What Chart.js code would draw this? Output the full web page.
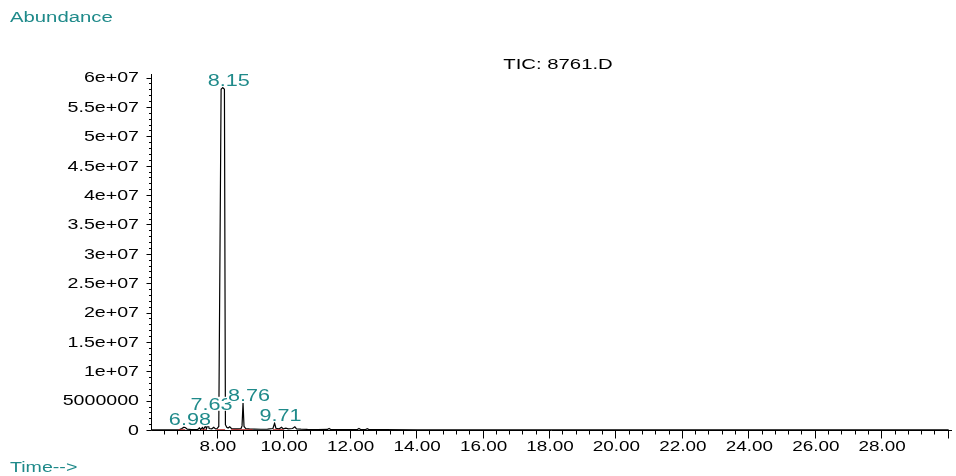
<!DOCTYPE html>
<html>
<head>
<meta charset="utf-8">
<title>TIC: 8761.D</title>
<script src="https://cdn.jsdelivr.net/npm/chart.js@4.4.0/dist/chart.umd.min.js"></script>
<style>
  html, body { margin: 0; padding: 0; background: #fff; }
  canvas { display: block; }
</style>
</head>
<body>
<canvas id="tic" width="956" height="476" style="width:956px;height:476px"></canvas>
<script>
// retention time (min) and abundance
const times = [
  6.00, 6.50, 6.85, 6.92, 6.98, 7.03, 7.08, 7.20, 7.40, 7.45,
  7.48, 7.54, 7.57, 7.63, 7.66, 7.71, 7.74, 7.82, 7.88, 7.93,
  7.98, 8.03, 8.10, 8.15, 8.20, 8.23, 8.27, 8.31, 8.36, 8.41,
  8.50, 8.60, 8.70, 8.73, 8.76, 8.79, 8.84, 8.95, 9.10, 9.30,
  9.50, 9.66, 9.71, 9.75, 9.85, 9.92, 9.97, 10.05, 10.12, 10.25,
  10.32, 10.37, 10.50, 10.70, 11.00, 11.30, 11.35, 11.40, 11.80, 12.20,
  12.25, 12.30, 12.45, 12.50, 12.55, 13.00, 14.00, 16.00, 18.00, 20.00,
  22.00, 24.00, 26.00, 28.00, 30.00
];
const abundance = [
  30000, 40000, 60000, 250000, 480000, 380000, 150000, 80000, 120000, 350000,
  90000, 420000, 120000, 700000, 200000, 1100000, 250000, 200000, 450000, 200000,
  250000, 600000, 58000000, 58300000, 58000000, 900000, 450000, 350000, 550000, 250000,
  200000, 180000, 250000, 700000, 4600000, 600000, 250000, 180000, 150000, 130000,
  150000, 250000, 1150000, 300000, 200000, 450000, 200000, 300000, 200000, 250000,
  550000, 200000, 150000, 100000, 80000, 90000, 250000, 80000, 70000, 80000,
  250000, 80000, 80000, 220000, 70000, 50000, 40000, 35000, 35000, 30000,
  30000, 30000, 30000, 30000, 30000
];

// integration baselines (red)
const baselineStarts = [6.82, 7.50, 7.96, 8.40, 9.66];
const baselineEnds = [7.02, 7.66, 8.22, 9.05, 9.98];

const peakTimes = [6.98, 7.63, 9.71, 8.76, 8.15];
const peakLabels = ['6.98', '7.63', '9.71', '8.76', '8.15'];
const peakLevels = [480000, 3100000, 1150000, 4600000, 58300000];

const xTickValues = [8, 10, 12, 14, 16, 18, 20, 22, 24, 26, 28];
const xTickLabels = ['8.00', '10.00', '12.00', '14.00', '16.00', '18.00', '20.00', '22.00', '24.00', '26.00', '28.00'];
const yTickValues = [0, 5e6, 1e7, 1.5e7, 2e7, 2.5e7, 3e7, 3.5e7, 4e7, 4.5e7, 5e7, 5.5e7, 6e7];
const yTickLabels = ['0', '5000000', '1e+07', '1.5e+07', '2e+07', '2.5e+07', '3e+07', '3.5e+07', '4e+07', '4.5e+07', '5e+07', '5.5e+07', '6e+07'];

const TEAL = '#1f8a8a';
const FONT = '"Liberation Sans", Arial, sans-serif';
const SX = 1.45; // the original print is stretched sideways

function wideText(ctx, text, x, y, size, color, align, baseline, sx) {
  ctx.save();
  ctx.translate(x, y);
  ctx.scale(sx || SX, 1);
  ctx.font = size + 'px ' + FONT;
  ctx.fillStyle = color;
  ctx.textAlign = align;
  ctx.textBaseline = baseline;
  ctx.fillText(text, 0, 0);
  ctx.restore();
}

const signal = times.map((t, i) => ({ x: t, y: abundance[i] }));
const baseline = [];
baselineStarts.forEach((s, i) => {
  baseline.push({ x: s, y: 0 }, { x: baselineEnds[i], y: 0 }, { x: baselineEnds[i] + 0.01, y: null });
});

const axesPlugin = {
  id: 'gcAxes',
  beforeDatasetsDraw(chart) {
    const { ctx, chartArea: a, scales: { x, y } } = chart;
    const ax = a.left - 0.5;
    const ay = a.bottom + 0.5;
    ctx.save();
    ctx.strokeStyle = '#000';
    ctx.lineWidth = 1;
    ctx.beginPath();
    ctx.moveTo(ax, a.top);
    ctx.lineTo(ax, ay);
    ctx.lineTo(a.right, ay);
    // y ticks every 1e6, long ones every 5e6
    for (let i = 0; i * 1e6 <= y.max; i++) {
      const py = Math.round(y.getPixelForValue(i * 1e6)) + 0.5;
      const len = i % 5 === 0 ? 5 : 2.5;
      ctx.moveTo(ax, py);
      ctx.lineTo(ax - len, py);
    }
    // x ticks every 0.4 min, long ones every 2 min
    for (let i = 1; 6 + i * 0.4 <= x.max; i++) {
      const px = Math.round(x.getPixelForValue(6 + i * 0.4)) - 0.5;
      const len = i % 5 === 0 ? 8 : 4;
      ctx.moveTo(px, ay);
      ctx.lineTo(px, ay + len);
    }
    ctx.stroke();
    ctx.restore();

    yTickValues.forEach((v, i) => {
      wideText(ctx, yTickLabels[i], a.left - 13, y.getPixelForValue(v) + 1, 14, '#000', 'right', 'middle', 1.4);
    });
    xTickValues.forEach((v, i) => {
      wideText(ctx, xTickLabels[i], x.getPixelForValue(v), a.bottom + 17, 14, '#000', 'center', 'middle', 1.35);
    });

    wideText(ctx, 'Abundance', 10, 18, 14, TEAL, 'left', 'middle');
    wideText(ctx, 'Time-->', 10, 468, 14, TEAL, 'left', 'middle', 1.4);
    wideText(ctx, 'TIC: 8761.D', 558, 65, 14, '#000', 'center', 'middle');
  },
  afterDatasetsDraw(chart) {
    const { ctx, scales: { x, y } } = chart;
    const sx = 1.35;
    peakLabels.forEach((label, i) => {
      const px = x.getPixelForValue(peakTimes[i]) + 6;
      const py = y.getPixelForValue(peakLevels[i]) - 2;
      ctx.save();
      ctx.font = '16px ' + FONT;
      const w = ctx.measureText(label).width * sx;
      ctx.fillStyle = '#fff';
      ctx.fillRect(px - w / 2 - 1, py - 13, w + 2, 14);
      ctx.restore();
      wideText(ctx, label, px, py, 16, TEAL, 'center', 'alphabetic', sx);
    });
  },
};

new Chart(document.getElementById('tic'), {
  type: 'line',
  data: {
    datasets: [
      {
        label: 'baseline',
        data: baseline,
        borderColor: '#b01c1c',
        borderWidth: 1.5,
        pointRadius: 0,
        spanGaps: false,
        order: 0,
      },
      {
        label: 'TIC',
        data: signal,
        borderColor: '#000',
        borderWidth: 1.2,
        pointRadius: 0,
        tension: 0,
        order: 1,
      },
    ],
  },
  options: {
    responsive: false,
    devicePixelRatio: 1,
    animation: false,
    events: [],
    layout: { padding: { left: 152, top: 74, right: 4, bottom: 46 } },
    plugins: {
      legend: { display: false },
      tooltip: { enabled: false },
    },
    scales: {
      x: { type: 'linear', min: 6.02, max: 30.1, display: false },
      y: { type: 'linear', min: 0, max: 6.06e7, display: false },
    },
  },
  plugins: [axesPlugin],
});
</script>
</body>
</html>
